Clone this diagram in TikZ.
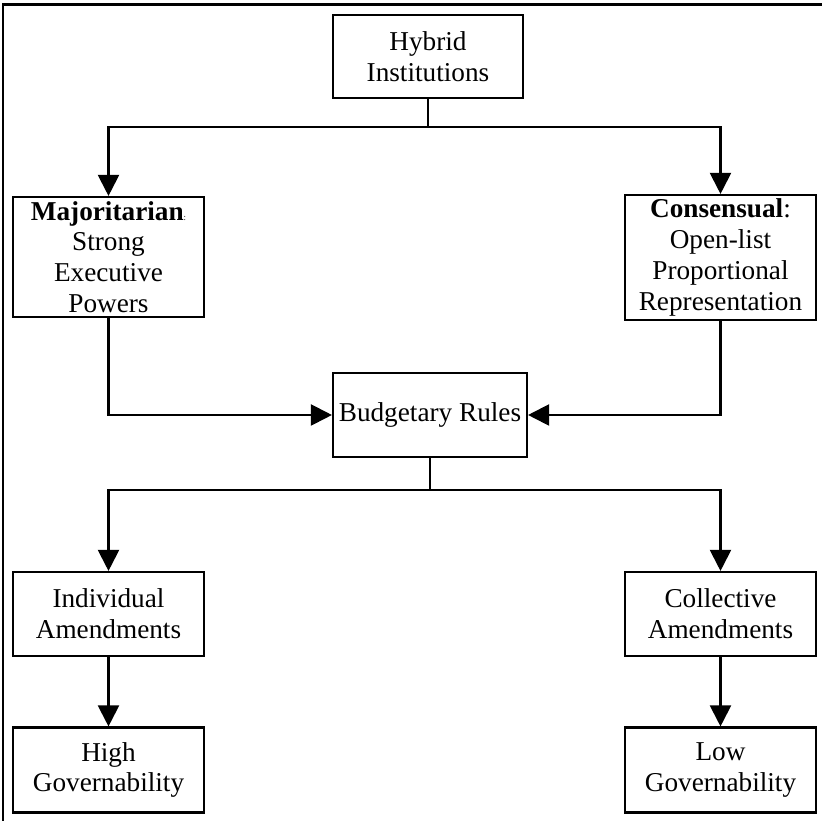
\documentclass[tikz,border=0pt]{standalone}
\usepackage{fontspec}
\setmainfont{Liberation Serif}
\usepackage{tikz}
\usetikzlibrary{arrows.meta,positioning}
\tikzset{flow box/.style={rectangle,draw,line width=1.2pt,align=center,inner sep=0pt,font=\fontsize{15.5pt}{17.5pt}\selectfont},
         flow arrow/.style={line width=1.2pt,-{Triangle[length=0.42cm,width=0.42cm]}}}

\begin{document}
\begin{tikzpicture}
        \useasboundingbox (0,0) rectangle (16.44,16.42);
        % outer frame (only top and left edge show)
        \draw [line width=1.7pt] (0.06,0) -- (0.06,16.32) -- (16.44,16.32);

        \node (hybrid)	[flow box,minimum width=3.8cm,minimum height=1.66cm] at	(8.56,15.29)	{Hybrid\\Institutions};
        \node (major)	[flow box,minimum width=3.82cm,minimum height=2.4cm] at	(2.17,11.28)	{\textbf{Majoritarian}{\tiny :}\\Strong\\Executive\\Powers};
        \node (consen)	[flow box,minimum width=3.82cm,minimum height=2.5cm] at	(14.41,11.27)	{\textbf{Consensual}:\\Open-list\\Proportional\\Representation};
        \node (budget)	[flow box,minimum width=3.88cm,minimum height=1.68cm] at	(8.6,8.12)	{Budgetary Rules};
        \node (indiv)	[flow box,minimum width=3.82cm,minimum height=1.68cm] at	(2.17,4.14)	{Individual\\Amendments};
        \node (collect)	[flow box,minimum width=3.82cm,minimum height=1.68cm] at	(14.41,4.14)	{Collective\\Amendments};
        \node (high)	[flow box,minimum width=3.82cm,minimum height=1.7cm] at	(2.17,1.02)	{High\\Governability};
        \node (low)	[flow box,minimum width=3.82cm,minimum height=1.7cm] at	(14.41,1.02)	{Low\\Governability};

        \coordinate (split top) at (8.56,13.88);
        \coordinate (split low) at (8.6,6.62);

        \draw [line width=1.2pt] (hybrid) -- (split top) (budget) -- (split low);
        \draw [flow arrow] (split top) -| (major.north);
        \draw [flow arrow] (split top) -| (consen.north);
        \draw [flow arrow] (major.south) |- (budget.west);
        \draw [flow arrow] (consen.south) |- (budget.east);
        \draw [flow arrow] (split low) -| (indiv.north);
        \draw [flow arrow] (split low) -| (collect.north);
        \draw [flow arrow] (indiv) -- (high);
        \draw [flow arrow] (collect) -- (low);
\end{tikzpicture}
\end{document}
